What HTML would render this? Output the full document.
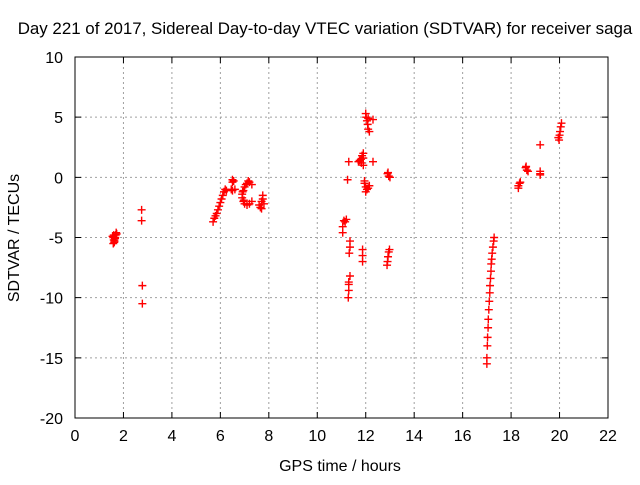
<!DOCTYPE html>
<html><head><meta charset="utf-8"><style>
body{margin:0;background:#fff}
svg text{font-family:"Liberation Sans",sans-serif;font-size:16px;fill:#000}
</style></head><body>
<svg id="chart" width="640" height="480" xmlns="http://www.w3.org/2000/svg">
<rect width="640" height="480" fill="#fff"/>
<text x="325" y="34" text-anchor="middle" style="font-size:16.9px">Day 221 of 2017, Sidereal Day-to-day VTEC variation (SDTVAR) for receiver saga</text>
<g id="grid"></g>
<g id="ticks"></g>
<g id="marks"></g>
<rect x="75" y="57" width="533" height="361" fill="none" stroke="#000" stroke-width="1"/>
<text x="340" y="471" text-anchor="middle">GPS time / hours</text>
<text transform="translate(19,238) rotate(-90)" text-anchor="middle">SDTVAR / TECUs</text>
</svg>
<script>
const xTicks=[0,2,4,6,8,10,12,14,16,18,20,22];
const yTicks=[10,5,0,-5,-10,-15,-20];
const times=[1.55,1.58,1.6,1.62,1.65,1.68,1.7,1.6,1.63,1.66,1.72,1.58,
2.75,2.75,2.78,2.78,
5.7,5.75,5.8,5.85,5.9,5.95,6.0,6.05,6.1,6.15,6.2,6.25,
6.5,6.5,6.55,6.45,6.5,6.6,
7.3,7.2,7.1,7.0,6.95,6.9,6.9,6.95,7.0,7.1,7.2,7.3,7.15,7.05,6.92,6.97,
7.6,7.65,7.7,7.75,7.8,7.7,7.75,
11.1,11.15,11.05,11.05,11.2,
11.25,11.3,11.35,11.35,11.32,11.3,11.3,11.28,11.35,11.3,
11.8,11.85,11.9,11.75,11.9,11.82,11.7,11.9,
12.0,12.02,12.05,12.08,12.1,12.15,12.1,12.3,
11.95,12.0,12.05,12.1,12.15,12.0,11.95,12.3,
11.87,11.87,11.87,
12.9,12.95,13.0,12.92,12.95,12.92,12.9,12.88,12.98,
17.0,17.0,17.02,17.03,17.05,17.06,17.08,17.1,17.12,17.13,17.15,17.17,17.18,17.2,17.22,17.25,17.28,17.3,
18.3,18.35,18.38,18.3,
18.6,18.65,18.7,18.62,
19.2,19.2,19.2,19.2,
19.95,20.0,20.02,20.05,20.08,19.98];
const values=[-4.9,-5.0,-5.2,-5.4,-5.1,-4.8,-4.6,-4.8,-5.3,-5.0,-4.7,-5.5,
-2.7,-3.6,-9.0,-10.5,
-3.7,-3.4,-3.2,-3.0,-2.7,-2.4,-2.1,-1.8,-1.5,-1.2,-1.0,-1.1,
-0.2,-0.4,-0.3,-1.0,-1.1,-1.0,
-0.6,-0.4,-0.5,-0.8,-1.1,-1.4,-1.7,-2.0,-2.2,-2.3,-2.2,-2.0,-0.3,-0.6,-1.2,-1.9,
-2.3,-2.5,-2.0,-1.8,-2.2,-2.6,-1.5,
-3.6,-3.7,-4.1,-4.6,-3.5,
-0.2,1.3,-5.3,-5.8,-6.3,-8.7,-9.4,-10.0,-8.2,-8.9,
1.5,1.8,1.6,1.4,2.0,1.2,1.3,1.0,
5.3,5.0,4.7,4.4,4.0,3.8,4.9,4.8,
-0.5,-0.8,-1.0,-0.9,-0.7,-1.2,-0.3,1.3,
-6.0,-6.5,-7.0,
0.3,0.1,0.0,0.4,-6.2,-6.6,-7.0,-7.3,-6.0,
-15.5,-15.0,-14.0,-13.3,-12.5,-11.8,-11.0,-10.3,-9.6,-9.0,-8.4,-7.8,-7.2,-6.8,-6.3,-5.8,-5.3,-5.0,
-0.7,-0.5,-0.4,-0.9,
0.8,0.6,0.5,0.9,
2.7,0.5,0.3,0.2,
3.3,3.5,3.8,4.2,4.5,3.1];
const X0=75,X1=608,Y0=57,Y1=418;
function sx(v){return X0+(v-0)/(22-0)*(X1-X0);}
function sy(v){return Y0+(10-v)/(10-(-20))*(Y1-Y0);}
const NS='http://www.w3.org/2000/svg';
const grid=document.getElementById('grid'),ticks=document.getElementById('ticks'),marks=document.getElementById('marks');
function mk(tag,attrs,parent){const e=document.createElementNS(NS,tag);for(const k in attrs)e.setAttribute(k,attrs[k]);parent.appendChild(e);return e;}
xTicks.forEach(t=>{const x=sx(t);
 if(t>0&&t<22){const l=mk('line',{x1:x,x2:x,y1:Y0,y2:Y1,stroke:'#a0a0a0','stroke-dasharray':'2,3'},grid);
 
 }
 const tk=mk('path',{d:`M${x},${Y1}v-6M${x},${Y0}v6`,stroke:'#000'},ticks);
 
 
 const tx=mk('text',{x:x,y:Y1+23,'text-anchor':'middle'},ticks);tx.textContent=t;
 
 
});
yTicks.forEach(t=>{const y=sy(t);
 if(t<10&&t>-20){const l=mk('line',{x1:X0,x2:X1,y1:y,y2:y,stroke:'#a0a0a0','stroke-dasharray':'2,3'},grid);
 
 }
 const tk=mk('path',{d:`M${X0},${y}h6M${X1},${y}h-6`,stroke:'#000'},ticks);
 
 
 const tx=mk('text',{x:X0-12,y:y+6,'text-anchor':'end'},ticks);tx.textContent=t;
 
 
});
times.forEach((t,i)=>{const x=sx(t),y=sy(values[i]);
 const p=mk('path',{d:`M${x-4},${y}h8M${x},${y-4}v8`,stroke:'#f00','stroke-width':1.4},marks);
 
 
});
</script>
</body></html>
